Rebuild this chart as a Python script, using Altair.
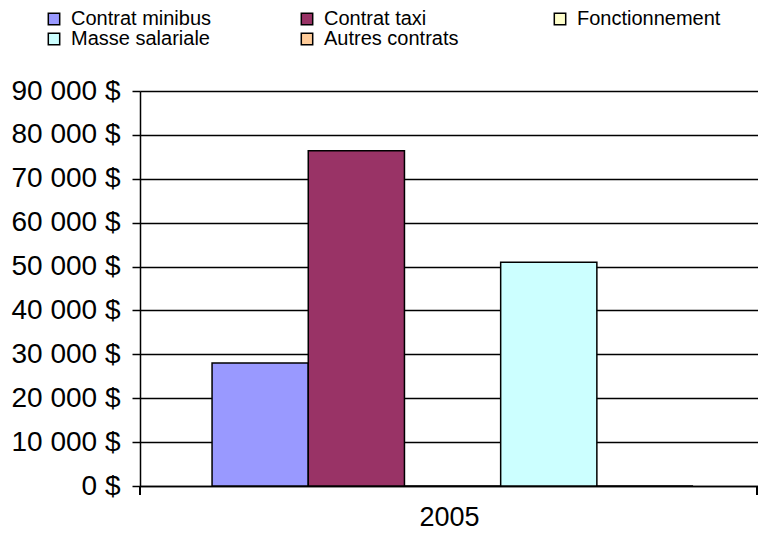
import altair as alt
import pandas as pd

series = ["Contrat minibus", "Contrat taxi", "Fonctionnement", "Masse salariale", "Autres contrats"]
values = [28000, 76400, 0, 51000, 0]
colors = ["#9999FF", "#993366", "#FFFFCC", "#CCFFFF", "#FFCC99"]
year = "2005"
y_ticks = [0, 10000, 20000, 30000, 40000, 50000, 60000, 70000, 80000, 90000]

df = pd.DataFrame({"series": series, "value": values})
FONT = "Liberation Sans"

bars = alt.Chart(df).mark_bar(stroke="black", strokeWidth=1.5, opacity=1).encode(
    x=alt.X(
        "series:N",
        sort=series,
        scale=alt.Scale(domain=series, paddingInner=0, paddingOuter=0.712, align=0.526),
        axis=alt.Axis(
            labels=False, ticks=False, domain=True, domainColor="black", domainWidth=1.5,
            title=year, titleFontSize=27, titleFontWeight="normal", titlePadding=18,
            titleColor="black", titleFont=FONT,
        ),
    ),
    y=alt.Y(
        "value:Q",
        scale=alt.Scale(domain=[0, 90000], nice=False),
        axis=alt.Axis(
            values=y_ticks,
            labelExpr="replace(format(datum.value, ',d'), ',', ' ') + ' $'",
            title=None, grid=True, gridColor="black", gridWidth=1.5,
            tickColor="black", tickSize=8, tickWidth=1.5,
            domainColor="black", domainWidth=1.5,
            labelFontSize=28, labelPadding=12, labelColor="black", labelFont=FONT,
        ),
    ),
    color=alt.Color(
        "series:N",
        sort=series,
        scale=alt.Scale(domain=series, range=colors),
        legend=alt.Legend(
            orient="none", legendX=-96, legendY=-82, columns=3, columnPadding=82,
            direction="horizontal",
            rowPadding=0, gridAlign="all", symbolType="square", symbolSize=130,
            symbolStrokeColor="black", symbolStrokeWidth=1.5, symbolOpacity=1,
            labelFontSize=20, labelFont=FONT, labelColor="black", labelOffset=7,
            title=None, padding=0, labelLimit=0,
        ),
    ),
)

left_tick = alt.Chart(df).mark_rule(color="black", strokeWidth=1.5).encode(
    x=alt.value(0), y=alt.value(395), y2=alt.value(404)
)
right_tick = alt.Chart(df).mark_rule(color="black", strokeWidth=1.5).encode(
    x=alt.value(617), y=alt.value(395), y2=alt.value(404)
)

chart = alt.layer(bars, left_tick, right_tick).properties(
    width=618,
    height=395,
    autosize=alt.AutoSizeParams(type="none"),
    padding={"left": 132, "top": 83, "right": 0, "bottom": 44},
    background="white",
).configure_view(stroke=None).configure(font=FONT)

chart.save("out.html", embed_options={"renderer": "svg", "actions": False})
